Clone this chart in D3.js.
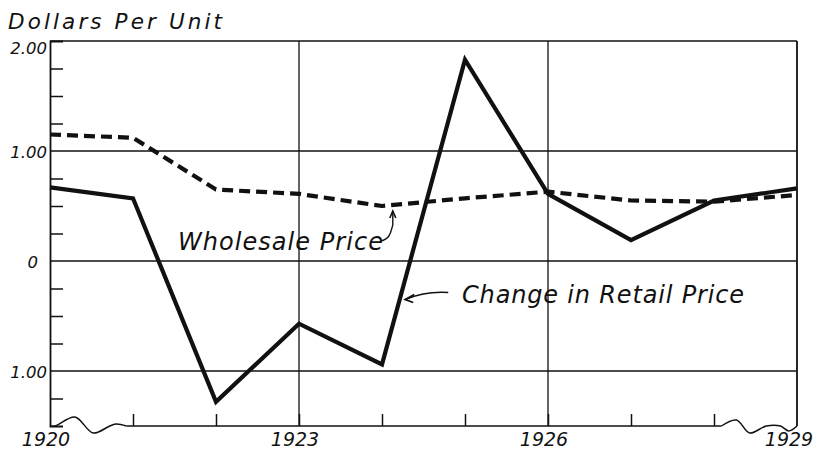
<!DOCTYPE html>
<html>
<head>
<meta charset="utf-8">
<script src="https://cdn.jsdelivr.net/npm/d3@7"></script>
<style>
  html, body { margin: 0; padding: 0; background: #fff; }
  svg { display: block; }
  text { font-family: "DejaVu Sans", "Liberation Sans", sans-serif; font-style: oblique; font-weight: normal; fill: #111; }
</style>
</head>
<body>
<svg id="chart" width="816" height="449"></svg>
<script>
// Years on the horizontal axis
const years = [1920, 1921, 1922, 1923, 1924, 1925, 1926, 1927, 1928, 1929];
// Change in retail price, dollars per unit
const retailChange = [0.67, 0.57, -1.28, -0.57, -0.94, 1.83, 0.61, 0.19, 0.55, 0.66];
// Wholesale price, dollars per unit
const wholesalePrice = [1.15, 1.12, 0.65, 0.61, 0.50, 0.57, 0.63, 0.55, 0.54, 0.60];
// Labelled values on the vertical axis (the negative side is lettered without a sign)
const yTickValues = [2, 1, 0, -1];
const yTickLabels = ["2.00", "1.00", "0", "1.00"];
// Years that carry a label
const labelledYears = [1920, 1923, 1926, 1929];

const svg = d3.select("#chart");
const x = d3.scaleLinear().domain([1920, 1929]).range([50, 797]);
const y = d3.scaleLinear().domain([-1.5, 2]).range([426, 41]);

const ink = "#111";

// Grid: horizontal rules at the labelled values, vertical rules every third year
svg.append("g")
  .selectAll("line")
  .data(yTickValues)
  .join("line")
  .attr("x1", x(1920)).attr("x2", x(1929))
  .attr("y1", d => y(d)).attr("y2", d => y(d))
  .attr("stroke", ink).attr("stroke-width", 1.3);

svg.append("g")
  .selectAll("line")
  .data([1923, 1926, 1929])
  .join("line")
  .attr("x1", d => x(d)).attr("x2", d => x(d))
  .attr("y1", y(2)).attr("y2", y(-1.5))
  .attr("stroke", ink).attr("stroke-width", d => d === 1929 ? 1.8 : 1.3);

// Left axis line with quarter-dollar minor ticks pointing inwards
const minorTicks = d3.range(-1.25, 2.0001, 0.25).filter(v => !yTickValues.includes(v));
const leftAxis = svg.append("g")
  .attr("transform", `translate(${x(1920)},0)`)
  .call(d3.axisRight(y).tickValues(minorTicks).tickSize(13).tickFormat(""));
leftAxis.selectAll("path.domain").attr("stroke", ink).attr("stroke-width", 1.8);
leftAxis.selectAll(".tick line").attr("stroke", ink).attr("stroke-width", 1.5);

// Value labels to the left of the axis
svg.append("g")
  .selectAll("text")
  .data(yTickValues)
  .join("text")
  .attr("x", (d, i) => yTickLabels[i] === "0" ? 38 : 47)
  .attr("y", d => y(d) + (d === 2 ? 13 : 7))
  .attr("text-anchor", "end")
  .attr("font-size", 16.5)
  .text((d, i) => yTickLabels[i]);

// Bottom axis: yearly ticks rising from the base line
const bottomAxis = svg.append("g")
  .attr("transform", `translate(0,${y(-1.5)})`)
  .call(d3.axisTop(x).tickValues(years.filter(v => v > 1920 && v < 1929)).tickSize(12).tickFormat(""));
bottomAxis.selectAll("path.domain").remove();
bottomAxis.selectAll(".tick line").attr("stroke", ink).attr("stroke-width", 1.5);

// Base line with wavy break marks at both ends
const breakLeft = [[0, 0], [0.06, 0], [0.30, -9], [0.52, 7], [0.72, 0], [0.80, -2], [0.92, 0]]
  .map(([t, dy]) => [x(1920 + t), y(-1.5) + dy]);
const breakRight = [[0.09, 0], [0.27, -6], [0.43, 7], [0.63, 0], [0.80, 0], [0.90, 5], [1.0, 0]]
  .map(([t, dy]) => [x(1928 + t), y(-1.5) + dy]);
const wave = d3.line().curve(d3.curveCatmullRom.alpha(0.5));
svg.append("path").attr("d", wave(breakLeft))
  .attr("fill", "none").attr("stroke", ink).attr("stroke-width", 1.5);
svg.append("path").attr("d", wave(breakRight))
  .attr("fill", "none").attr("stroke", ink).attr("stroke-width", 1.5);
svg.append("line")
  .attr("x1", breakLeft[breakLeft.length - 1][0]).attr("x2", breakRight[0][0])
  .attr("y1", y(-1.5)).attr("y2", y(-1.5))
  .attr("stroke", ink).attr("stroke-width", 1.5);

// Year labels
svg.append("g")
  .selectAll("text")
  .data(labelledYears)
  .join("text")
  .attr("x", d => d === 1929 ? x(d) - 8 : x(d) - 4)
  .attr("y", 446)
  .attr("text-anchor", "middle")
  .attr("font-size", 19)
  .text(d => d);

// Axis title
svg.append("text")
  .attr("x", 8).attr("y", 29)
  .attr("font-size", 21.5)
  .attr("textLength", 214).attr("lengthAdjust", "spacing")
  .text("Dollars Per Unit");

// Series lines
const line = d3.line().x((d, i) => x(years[i])).y(d => y(d));

svg.append("path")
  .datum(wholesalePrice)
  .attr("d", line)
  .attr("fill", "none")
  .attr("stroke", ink)
  .attr("stroke-width", 4.2)
  .attr("stroke-dasharray", "11,6")
  .attr("stroke-linejoin", "round");

svg.append("path")
  .datum(retailChange)
  .attr("d", line)
  .attr("fill", "none")
  .attr("stroke", ink)
  .attr("stroke-width", 4.2)
  .attr("stroke-linejoin", "miter");

// Annotations
svg.append("text")
  .attr("x", 178).attr("y", 250)
  .attr("font-size", 24)
  .attr("textLength", 205).attr("lengthAdjust", "spacing")
  .text("Wholesale Price");

const wTip = [x(1924.13), y(0.455)];
svg.append("path")
  .attr("d", `M${wTip[0] - 12},${wTip[1] + 30} C${wTip[0] - 2},${wTip[1] + 28} ${wTip[0] - 2},${wTip[1] + 20} ${wTip[0]},${wTip[1] + 14} L${wTip[0]},${wTip[1]}`)
  .attr("fill", "none").attr("stroke", ink).attr("stroke-width", 1.4);
svg.append("path")
  .attr("d", `M${wTip[0] - 3},${wTip[1] + 7} L${wTip[0]},${wTip[1]} L${wTip[0] + 3},${wTip[1] + 7}`)
  .attr("fill", "none").attr("stroke", ink).attr("stroke-width", 1.6);

svg.append("text")
  .attr("x", 462).attr("y", 303)
  .attr("font-size", 24)
  .attr("textLength", 282).attr("lengthAdjust", "spacing")
  .text("Change in Retail Price");

const rTip = [x(1924.28), y(-0.35)];
svg.append("path")
  .attr("d", `M${rTip[0] + 43},${rTip[1] - 7} C${rTip[0] + 28},${rTip[1] - 8} ${rTip[0] + 12},${rTip[1] - 5} ${rTip[0]},${rTip[1]}`)
  .attr("fill", "none").attr("stroke", ink).attr("stroke-width", 1.6);
svg.append("path")
  .attr("d", `M${rTip[0] + 9},${rTip[1] - 5} L${rTip[0]},${rTip[1]} L${rTip[0] + 8},${rTip[1] + 3}`)
  .attr("fill", "none").attr("stroke", ink).attr("stroke-width", 1.8);
</script>
</body>
</html>
